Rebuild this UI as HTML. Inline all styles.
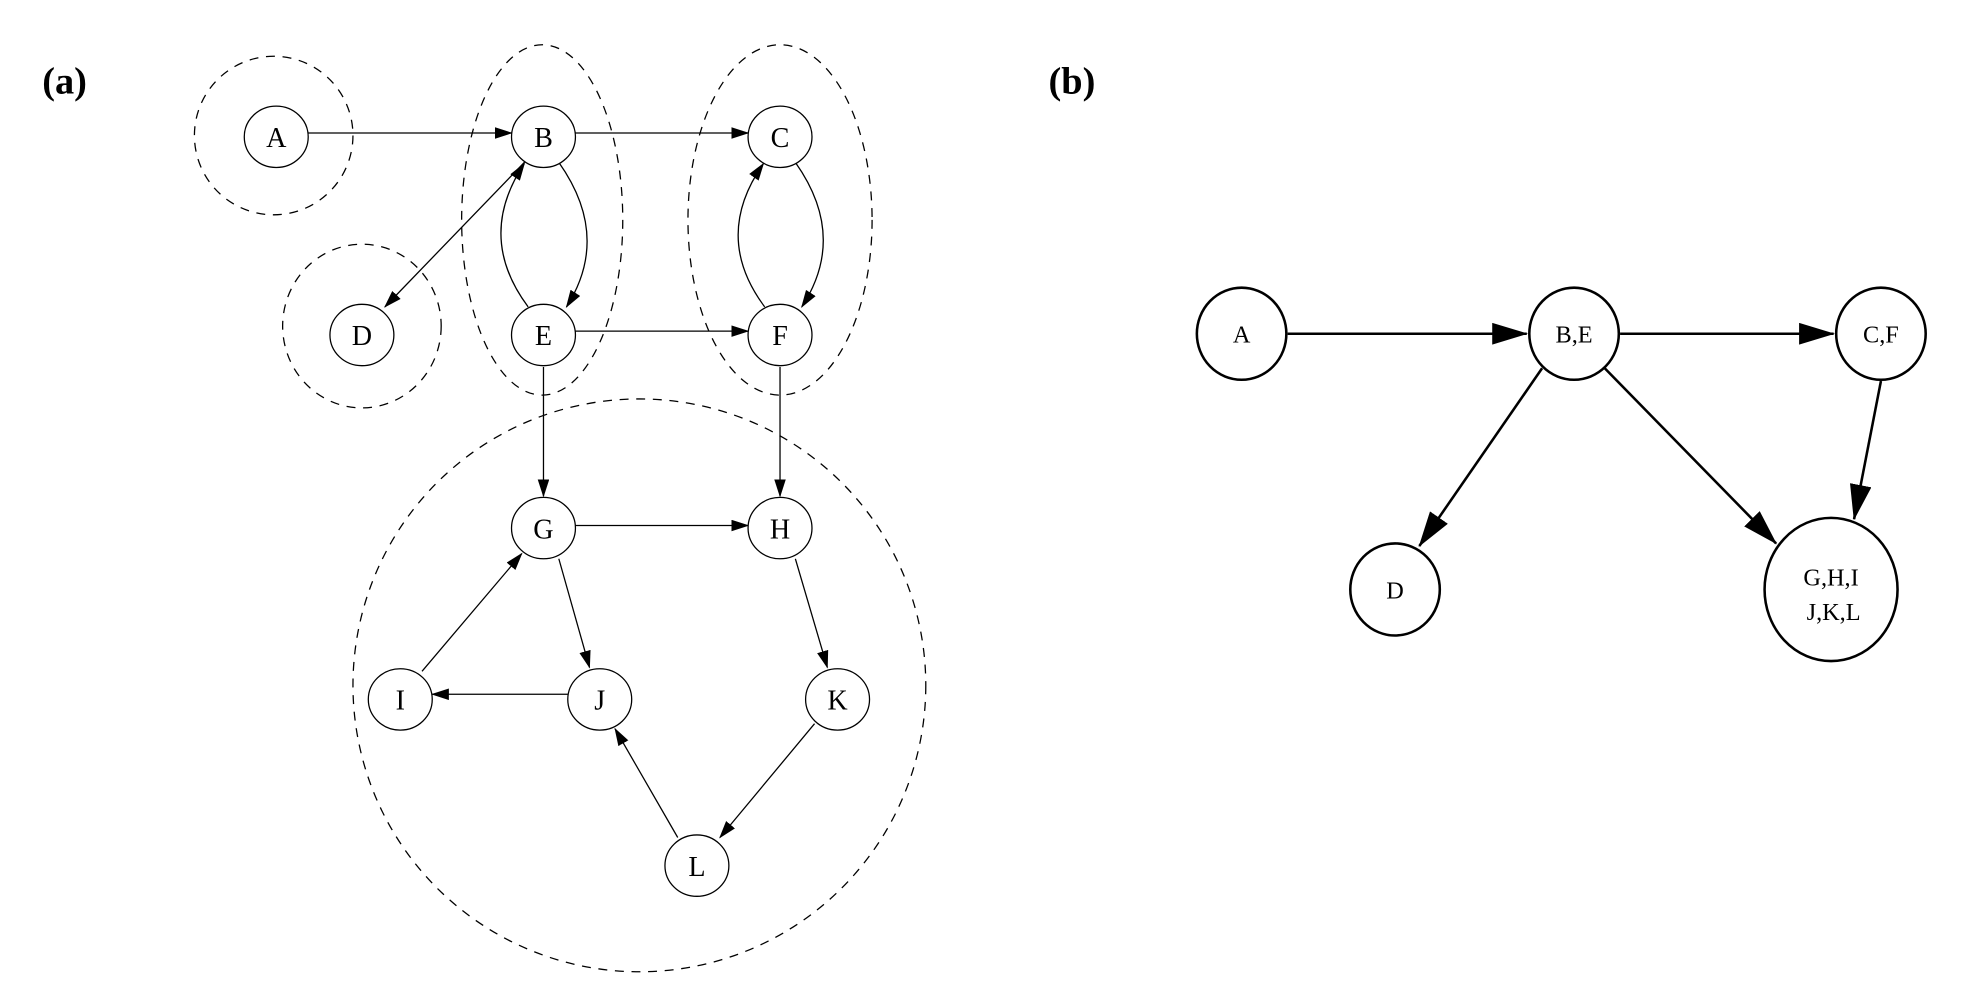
<!DOCTYPE html>
<html><head><meta charset="utf-8"><style>html,body{margin:0;padding:0;background:#fff}svg{display:block}</style></head>
<body>
<svg width="1982" height="988" viewBox="0 0 1550 772.7" xmlns="http://www.w3.org/2000/svg" font-family="'Liberation Serif', serif">
<defs>
<marker id="a" markerUnits="userSpaceOnUse" markerWidth="14" markerHeight="10" refX="13" refY="4.5" orient="auto"><path d="M0,0 L14,4.5 L0,9 Z" fill="#000"/></marker>
<marker id="b" markerUnits="userSpaceOnUse" markerWidth="28" markerHeight="20" refX="27" refY="8.5" orient="auto"><path d="M0,0 L28,8.5 L0,17 Z" fill="#000"/></marker>
</defs>
<rect width="1550" height="773" fill="#fff"/>
<text x="33" y="73" font-size="30" font-weight="bold">(a)</text>
<text x="820" y="73" font-size="30" font-weight="bold">(b)</text>
<g fill="none" stroke="#000" stroke-width="1" stroke-dasharray="7,6">
<ellipse cx="214" cy="106" rx="62" ry="62"/>
<ellipse cx="283" cy="255" rx="62" ry="64"/>
<ellipse cx="424" cy="172" rx="63" ry="137"/>
<ellipse cx="610" cy="172" rx="72" ry="137"/>
<ellipse cx="500" cy="536" rx="224" ry="224"/>
</g>
<g fill="none" stroke="#000" stroke-width="1" marker-end="url(#a)">
<line x1="241" y1="104" x2="400" y2="104"/>
<line x1="450" y1="104" x2="585" y2="104"/>
<line x1="450" y1="259" x2="585" y2="259"/>
<line x1="411" y1="126" x2="301" y2="240"/>
<path d="M437,127 Q478,185 443,240"/>
<path d="M413,240 Q372,185 410,128"/>
<path d="M622,127 Q663,185 627,240"/>
<path d="M598,240 Q557,185 597,128"/>
<line x1="425" y1="287" x2="425" y2="388"/>
<line x1="610" y1="287" x2="610" y2="388"/>
<line x1="450" y1="411" x2="585" y2="411"/>
<line x1="437" y1="437" x2="461" y2="522"/>
<line x1="444" y1="543" x2="338" y2="543"/>
<line x1="330" y1="525" x2="408" y2="433"/>
<line x1="622" y1="437" x2="647" y2="522"/>
<line x1="637" y1="566" x2="563" y2="655"/>
<line x1="530" y1="655" x2="481" y2="570"/>
</g>
<g fill="#fff" stroke="#000" stroke-width="1">
<ellipse cx="216" cy="107" rx="25" ry="24"/>
<ellipse cx="425" cy="107" rx="25" ry="24"/>
<ellipse cx="610" cy="107" rx="25" ry="24"/>
<ellipse cx="283" cy="262" rx="25" ry="24"/>
<ellipse cx="425" cy="262" rx="25" ry="24"/>
<ellipse cx="610" cy="262" rx="25" ry="24"/>
<ellipse cx="425" cy="413" rx="25" ry="24"/>
<ellipse cx="610" cy="413" rx="25" ry="24"/>
<ellipse cx="313" cy="547" rx="25" ry="24"/>
<ellipse cx="469" cy="547" rx="25" ry="24"/>
<ellipse cx="655" cy="547" rx="25" ry="24"/>
<ellipse cx="545" cy="677" rx="25" ry="24"/>
</g>
<g font-size="22" text-anchor="middle">
<text x="216" y="115">A</text><text x="425" y="115">B</text><text x="610" y="115">C</text>
<text x="283" y="270">D</text><text x="425" y="270">E</text><text x="610" y="270">F</text>
<text x="425" y="421">G</text><text x="610" y="421">H</text><text x="313" y="555">I</text>
<text x="469" y="555">J</text><text x="655" y="555">K</text><text x="545" y="685">L</text>
</g>
<g fill="none" stroke="#000" stroke-width="2" marker-end="url(#b)">
<line x1="1007" y1="261" x2="1194" y2="261"/>
<line x1="1267" y1="261" x2="1434" y2="261"/>
<line x1="1206" y1="288" x2="1110" y2="427"/>
<line x1="1255" y1="288" x2="1389" y2="425"/>
<line x1="1471" y1="298" x2="1450" y2="406"/>
</g>
<g fill="#fff" stroke="#000" stroke-width="2">
<ellipse cx="971" cy="261" rx="35" ry="36"/>
<ellipse cx="1231" cy="261" rx="35" ry="36"/>
<ellipse cx="1471" cy="261" rx="35" ry="36"/>
<ellipse cx="1091" cy="461" rx="35" ry="36"/>
<ellipse cx="1432" cy="461" rx="52" ry="56"/>
</g>
<g font-size="19" text-anchor="middle">
<text x="971" y="268">A</text><text x="1231" y="268">B,E</text><text x="1471" y="268">C,F</text>
<text x="1091" y="468">D</text><text x="1432" y="458">G,H,I</text><text x="1434" y="485">J,K,L</text>
</g>
</svg>
</body></html>
